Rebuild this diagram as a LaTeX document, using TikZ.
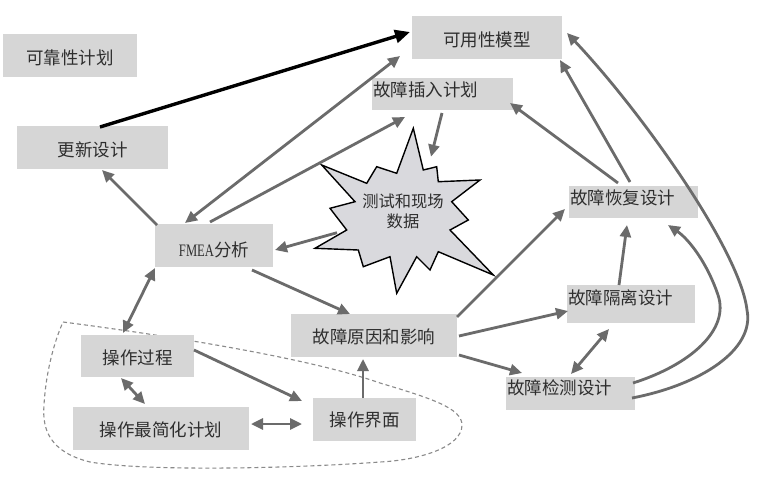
\documentclass[tikz,border=0pt]{standalone}
\usepackage{fontspec}
\setmainfont{Noto Sans CJK SC}
\newfontfamily\latinserif{Liberation Serif}
\usetikzlibrary{arrows.meta}
\definecolor{boxgray}{HTML}{D6D6D6}
\definecolor{arrgray}{HTML}{6B6B6B}
\definecolor{txtgray}{HTML}{2E2E2E}
\definecolor{stargray}{HTML}{D9D9DD}
\definecolor{dashgray}{HTML}{8A8A8A}
\begin{document}
\begin{tikzpicture}[x=1pt,y=-1pt,
  box/.style={fill=boxgray, text=txtgray, inner xsep=0pt, inner ysep=0pt,
    font=\fontsize{17.5}{20}\selectfont, text depth=2.1pt},
  lbox/.style={box, align=left, inner xsep=1pt},
  arr/.style={draw=arrgray, line width=2.8pt, -{Triangle[length=12pt,width=11pt]}},
  darr/.style={draw=arrgray, line width=2.8pt, {Triangle[length=12pt,width=11pt]}-{Triangle[length=12pt,width=11pt]}},
  blackarr/.style={draw=black, line width=3.4pt, -{Triangle[length=15pt,width=13pt]}},
  startxt/.style={text=txtgray, align=center, font=\fontsize{16.3}{20}\selectfont, inner sep=0pt}
]
\useasboundingbox (0,0) rectangle (758,479);
\fill[white] (0,0) rectangle (758,479);

% dashed region
\draw[dashgray, line width=1.1pt, dash pattern=on 4pt off 3pt]
  (63,322) .. controls (140,332) and (300,355) .. (380,383)
  .. controls (430,398) and (462,408) .. (462,425)
  .. controls (462,447) and (420,460) .. (380,462)
  .. controls (300,468) and (150,472) .. (90,462)
  .. controls (50,452) and (42,430) .. (44,405)
  .. controls (46,370) and (55,340) .. (63,322);

% boxes
\node[box, minimum width=134pt, minimum height=43pt, text height=20.4pt] (rel) at (70,55.5) {可靠性计划};
\node[box, minimum width=151pt, minimum height=43pt, text height=20.4pt] (upd) at (92.5,147.5) {更新设计};
\node[box, minimum width=150pt, minimum height=43pt, text height=20.4pt] (avail) at (487,37.5) {可用性模型};
\node[lbox, text width=139pt, minimum height=32pt, text height=7.4pt] (inj) at (442.5,94) {故障插入计划};
\node[box, minimum width=118pt, minimum height=43pt, text height=24.4pt] (fmea) at (214,245.5) {{\latinserif\scalebox{0.72}[1]{FMEA}}分析};
\node[box, minimum width=166pt, minimum height=43pt, text height=18.4pt] (cause) at (374,335.5) {故障原因和影响};
\node[box, minimum width=113pt, minimum height=42pt, text height=19.4pt] (proc) at (137.5,356) {操作过程};
\node[box, minimum width=176pt, minimum height=43pt, text height=18.4pt] (simp) at (161,428.5) {操作最简化计划};
\node[box, minimum width=103pt, minimum height=43pt, text height=16.4pt] (ui) at (364.5,419.5) {操作界面};
\node[lbox, text width=127pt, minimum height=32pt, text height=7.4pt] (rec) at (633.5,202) {故障恢复设计};
\node[lbox, text width=126pt, minimum height=38pt, text height=3.4pt] (iso) at (631,304) {故障隔离设计};
\node[lbox, text width=127pt, minimum height=33pt, text height=4.4pt] (det) at (570.5,393.5) {故障检测设计};

% starburst
\draw[fill=stargray, line width=1.4pt, line join=miter, miter limit=20]
  (413.3,128.3) -- (423.3,170) -- (436.7,166.7) -- (438.3,181.7) -- (480,180)
  -- (451.7,201.7) -- (468.3,220) -- (450,230) -- (493.3,275) -- (438.3,251.7)
  -- (430,270) -- (416.7,256.7) -- (396.7,293.3) -- (390,256.7) -- (363.3,266.7)
  -- (358.3,250) -- (315,248.3) -- (346.7,230) -- (330,208.3) -- (355,201.7)
  -- (321.7,165) -- (366.7,183.3) -- (376.7,166.7) -- (396.7,173.3) -- cycle;
\node[startxt] (star) at (403,211.7) {测试和现场\\数据};

% connectors
\draw[blackarr] ([shift={(7.5,-20.5)}]upd.center) -- ([shift={(-77,-5.5)}]avail.center);
\draw[arr] ([shift={(-57,-20.5)}]fmea.center) -- ([shift={(9.5,22.5)}]upd.center);
\draw[darr] ([shift={(-29,-22.5)}]fmea.center) -- ([shift={(-87,18.5)}]avail.center);
\draw[arr] ([shift={(-4,-23.5)}]fmea.center) -- ([shift={(-37.5,23)}]inj.center);
\draw[arr] ([shift={(-66,21)}]star.center) -- ([shift={(61,4.5)}]fmea.center);
\draw[arr] ([shift={(-0.5,19)}]inj.center) -- ([shift={(28,-55)}]star.center);
\draw[arr] ([shift={(38,24.5)}]fmea.center) -- ([shift={(-24,-21.5)}]cause.center);
\draw[darr] ([shift={(-14.5,-23)}]proc.center) -- ([shift={(-59,22.5)}]fmea.center);
\draw[darr] ([shift={(-16.5,22)}]proc.center) -- ([shift={(-16,-24.5)}]simp.center);
\draw[arr] ([shift={(56.5,-6)}]proc.center) -- ([shift={(-62.5,-18.5)}]ui.center);
\draw[darr] ([shift={(90,-4.5)}]simp.center) -- ([shift={(-62.5,4.5)}]ui.center);
\draw[arr] ([shift={(-1.5,-21.5)}]ui.center) -- ([shift={(-11,23.5)}]cause.center);
\draw[arr] ([shift={(83,-18.5)}]cause.center) -- ([shift={(-68.5,7)}]rec.center);
\draw[arr] ([shift={(85,0.5)}]cause.center) -- ([shift={(-63,7)}]iso.center);
\draw[arr] ([shift={(85,19.5)}]cause.center) -- ([shift={(-48.5,-20.5)}]det.center);
\draw[darr] ([shift={(0.5,-19.5)}]det.center) -- ([shift={(-22,25)}]iso.center);
\draw[arr] ([shift={(-12,-19)}]iso.center) -- ([shift={(-6.5,23)}]rec.center);
\draw[arr] ([shift={(62.5,-10.5)}]det.center) .. controls (690,365) and (730,330) .. (718,295)
  .. controls (708,265) and (690,240) .. ([shift={(34.5,23)}]rec.center);
\draw[arr] ([shift={(61.5,4.5)}]det.center) .. controls (700,385) and (755,350) .. (747,310)
  .. controls (740,250) and (640,110) .. ([shift={(80,-4.5)}]avail.center);
\draw[arr] ([shift={(-15.5,-19)}]rec.center) -- ([shift={(67.5,9)}]inj.center);
\draw[arr] ([shift={(-3.5,-20)}]rec.center) -- ([shift={(73,22.5)}]avail.center);
\end{tikzpicture}
\end{document}
